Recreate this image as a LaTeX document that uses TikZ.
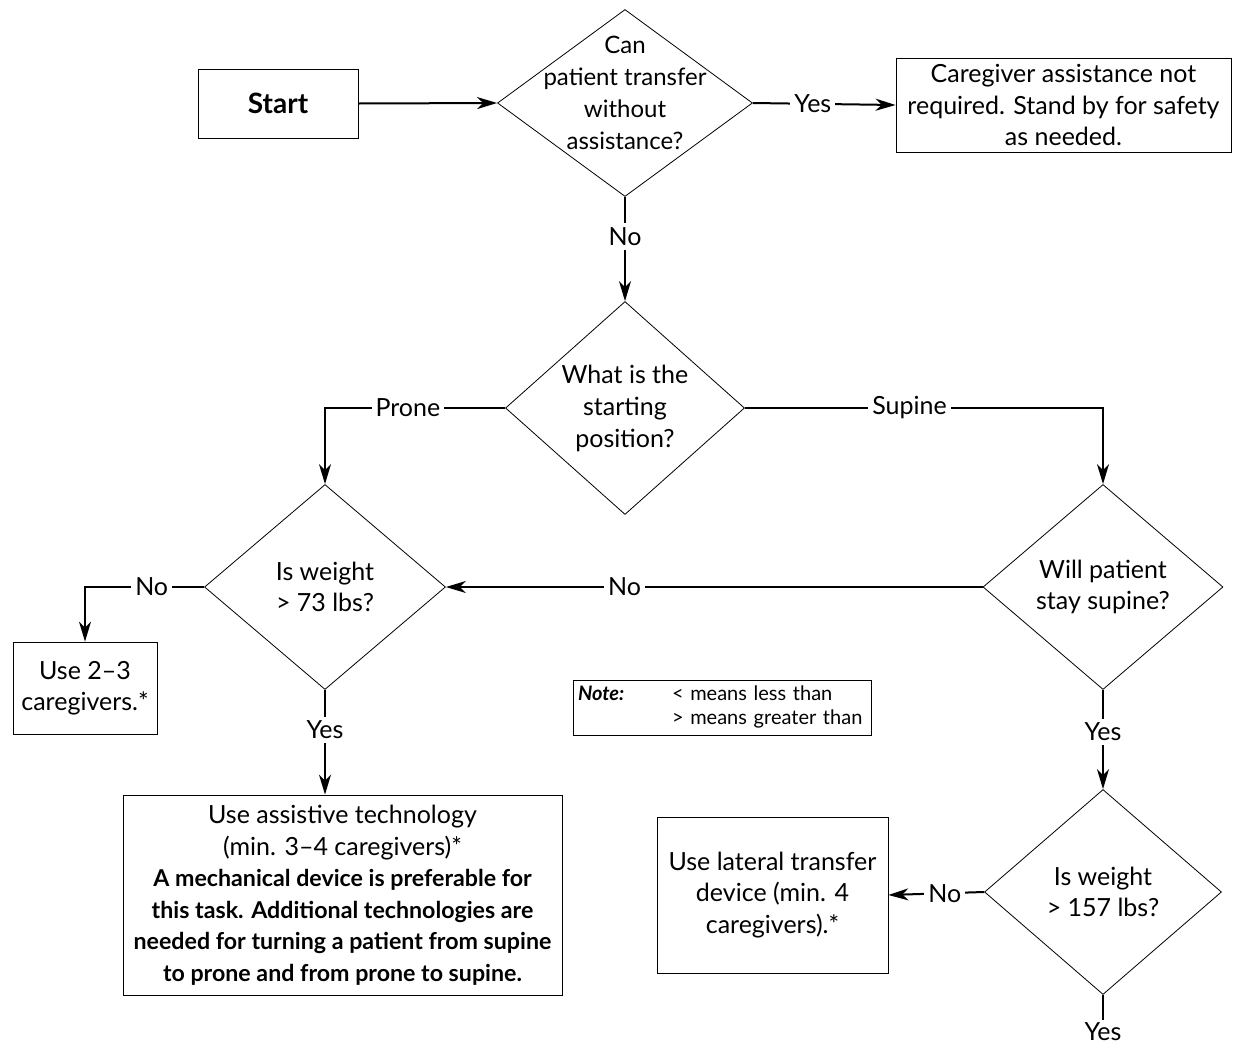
\documentclass[tikz,border=0pt]{standalone}
\usepackage{fontspec}
\setmainfont{Lato}
\usetikzlibrary{arrows.meta}
\usetikzlibrary{shapes.geometric}
\newcommand\heavy[1]{{\fontsize{11.6}{15.75}\selectfont\bfseries #1}}

\begin{document}
\begin{tikzpicture} [x=0.5pt, y=-0.5pt,
  txt/.style={align=center, font=\fontsize{12.5}{15.75}\selectfont},
  dec/.style={draw, thin, diamond, inner sep=0pt},
  box/.style={draw, thin, rectangle, inner sep=0pt, txt},
  lbl/.style={fill=white, inner sep=2pt, txt},
  flow/.style={black, line width=1pt, -{Stealth[length=10pt, width=6pt, inset=3pt]}}]
\useasboundingbox (0,0) rectangle (1244,1045);
% decisions
\node[dec, minimum width=127.5pt, minimum height=93.5pt] (transfer) at (625,103) {};
\node[dec, minimum width=119.5pt, minimum height=106.5pt] (position) at (625,408) {};
\node[dec, minimum width=120.5pt, minimum height=102.5pt] (weightA) at (325,587) {};
\node[dec, minimum width=120pt, minimum height=102.5pt] (supine) at (1103,587) {};
\node[dec, minimum width=118.5pt, minimum height=102.5pt] (weightB) at (1103,892) {};
\node[txt, font=\fontsize{12}{16}\selectfont] (transferq) at (625,93) {Can\\patient transfer\\without\\assistance?};
\node[txt, font=\fontsize{12.5}{16}\selectfont] (positionq) at (position) {What is the\\starting\\position?};
\node[txt] (weightAq) at (weightA) {Is weight\\> 73 lbs?};
\node[txt] (supineq) at (supine) {Will patient\\stay supine?};
\node[txt] (weightBq) at (weightB) {Is weight\\> 157 lbs?};
% boxes
\node[box, minimum width=80pt, minimum height=34.5pt, font=\fontsize{14}{16}\selectfont\bfseries] (start) at (278,103.5) {Start};
\node[box, minimum width=167.5pt, minimum height=47pt] (standby) at (1063.5,105) {Caregiver assistance not\\required. Stand by for safety\\as needed.};
\node[box, minimum width=72pt, minimum height=46pt] (few) at (85,688) {Use 2--3\\caregivers.*};
\node[box, minimum width=219.5pt, minimum height=100pt] (assist) at (342.5,895) {Use assistive technology\\(min. 3--4 caregivers)*\\
  \heavy{A mechanical device is preferable for}\\\heavy{this task. Additional technologies are}\\\heavy{needed for turning a patient from supine}\\\heavy{to prone and from prone to supine.}};
\node[box, minimum width=115.5pt, minimum height=78pt] (lateral) at (772.5,895) {Use lateral transfer\\device (min. 4\\caregivers).*};
\node[draw, thin, inner xsep=2.5pt, inner ysep=0pt, text width=144pt, minimum height=27.5pt, align=left, font=\fontsize{10}{12}\selectfont] (note) at (722,707.5) {\begin{tabular}{@{}p{47pt}@{}l@{}}\textbf{\textit{Note:}} & < means less than\\ & > means greater than\end{tabular}};
% connectors
\draw[flow] (start.east) -- (transfer.west);
\draw[flow] (transfer.east) -- node[lbl, pos=0.42] {Yes} (standby.west);
\draw[flow] (transfer.south) -- node[lbl, pos=0.38] {No} (position.north);
\draw[flow] (position.west) -| node[lbl, pos=0.27] {Prone} (weightA.north);
\draw[flow] (position.east) -| node[lbl, pos=0.23] {Supine} (supine.north);
\draw[flow] (supine.west) -- node[lbl, pos=0.667] {No} (weightA.east);
\draw[flow] (weightA.west) -| node[lbl, pos=0.22] {No} (few.north);
\draw[flow] (weightA.south) -- node[lbl, pos=0.38] {Yes} (weightA.south |- assist.north);
\draw[flow] (supine.south) -- node[lbl, pos=0.42] {Yes} (weightB.north);
\draw[flow] (weightB.west) -- node[lbl, pos=0.41] {No} (lateral.east);
\draw[black, line width=1pt] (weightB.south) -- ++(0,25) node[below, inner sep=1pt, txt] {Yes};
\end{tikzpicture}
\end{document}
